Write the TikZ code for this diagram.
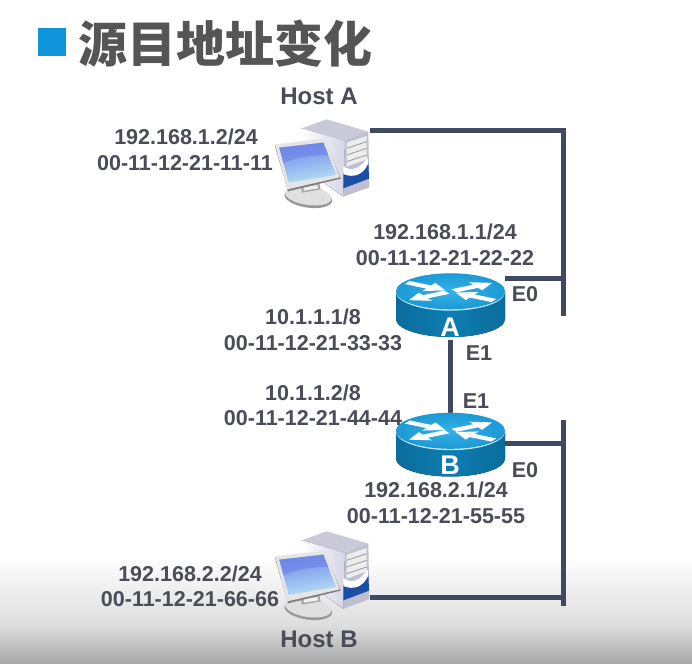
\documentclass[tikz,border=0pt]{standalone}
\usepackage{fontspec}
\setsansfont{Liberation Sans}
\newfontfamily\cjkfont{Noto Sans CJK SC}
\definecolor{cline}{HTML}{3F4A60}
\definecolor{ctext}{HTML}{4A4C58}
\definecolor{ctitle}{HTML}{555555}
\definecolor{cmark}{HTML}{0F96DA}
\definecolor{ctop}{HTML}{1C9AD6}
\definecolor{ctoplight}{HTML}{35B0E6}
\definecolor{cbody}{HTML}{0E7DB0}
\definecolor{cbodydark}{HTML}{0A6C9C}
\definecolor{ctowertop}{HTML}{C9C9DA}
\definecolor{ctowerside}{HTML}{D5D5E6}
\definecolor{ctowerfront}{HTML}{BEBFD0}
\definecolor{ctowerblue}{HTML}{1B4FA6}
\definecolor{cscreen}{HTML}{6F86E8}
\definecolor{cscreenlight}{HTML}{B5E0F5}
\tikzset{
  wire/.style={draw=cline,line width=5pt},
  addr/.style={text=ctext,inner sep=0pt,font=\sffamily\bfseries\fontsize{21.5}{24}\selectfont},
  hostname/.style={addr,font=\sffamily\bfseries\fontsize{24}{26}\selectfont},
  routername/.style={inner sep=0pt,text=white,font=\sffamily\bfseries\fontsize{27}{28}\selectfont},
  iconbox/.style={inner sep=0pt,minimum width=#1},
  routerarrow/.style={fill=white,draw=none},
  pics/router/.style={code={
    %% body
    \fill[left color=cbodydark,right color=cbodydark,middle color=cbody]
      (-54.5,-13.5) -- (-54.5,13.5) arc[start angle=180,end angle=0,x radius=54.5,y radius=18]
      -- (54.5,-13.5) -- cycle;
    %% top
    \fill[white!75!ctop] (0,-13.5) ellipse[x radius=54.5,y radius=18.7];
    \shade[inner color=ctoplight,outer color=ctop] (0,-14.2) ellipse[x radius=54.5,y radius=18];
    %% arrows
    \begin{scope}[shift={(0,-14)},yscale=0.36]
      \foreach \a in {30,210} {
        \fill[routerarrow,rotate=\a] (4,-5) -- (29,-5) -- (29,-13) -- (48,0) -- (29,13) -- (29,5) -- (4,5) -- cycle; }
      \foreach \a in {150,330} {
        \fill[routerarrow,rotate=\a] (50,-5) -- (25,-5) -- (25,-13) -- (6,0) -- (25,13) -- (25,5) -- (50,5) -- cycle; }
    \end{scope}
  }},
  pics/host/.style={code={
    \begin{scope}[x=0.3333pt,y=-0.3333pt,shift={(-186,-186)}]
      %% tower
      \fill[left color=white,right color=ctowerside] (125,85) -- (255,122) -- (250,290) -- (125,200) -- cycle;
      \fill[ctowertop] (125,85) -- (200,58) -- (325,95) -- (255,122) -- cycle;
      \fill[ctowerfront] (255,122) -- (325,95) -- (328,262) -- (250,290) -- cycle;
      \fill[black!7] (260,128) -- (320,108) -- (320,178) -- (260,200) -- cycle;
      \foreach \y in {145,165,185} {
        \draw[black!40,line width=0.8pt] (260,\y) -- (320,\y-20); }
      \fill[ctowerblue] (250,215) .. controls (280,235) and (310,225) .. (325,185) -- (327,236) -- (250,265) -- cycle;
      \fill[white] (250,198) .. controls (270,215) and (300,210) .. (322,172) -- (325,190) .. controls (310,225) and (280,235) .. (250,222) -- cycle;
      %% base
      \fill[black!40] (145,293) ellipse[x radius=72,y radius=30,rotate=-8];
      \fill[black!12] (145,287) ellipse[x radius=70,y radius=28,rotate=-8];
      \fill[black!35] (122,258) -- (178,250) -- (182,268) -- (126,278) -- cycle;
      \fill[black!6] (130,262) -- (172,255) -- (175,265) -- (132,272) -- cycle;
      %% monitor
      \fill[black!50] (45,138) -- (195,120) -- (242,236) -- (84,274) -- cycle;
      \fill[black!10] (45,133) -- (195,116) -- (239,232) -- (82,268) -- cycle;
      \shade[top color=cscreen,bottom color=cscreenlight,shading angle=10]
        (58,143) -- (190,128) -- (228,225) -- (86,248) -- cycle;
      \fill[cscreen,opacity=0.7] (58,143) -- (190,128) -- (205,165) .. controls (160,165) and (110,170) .. (70,190) -- cycle;
    \end{scope}
  }}
}
\begin{document}
\begin{tikzpicture}[x=1pt,y=-1pt,font=\sffamily]
  \useasboundingbox (0,0) rectangle (692,663);
  %% background
  \fill[white] (0,0) rectangle (692,663);
  \fill[top color=white,bottom color=black!13] (0,555) rectangle (692,625);
  \fill[top color=black!13,bottom color=black!34] (0,625) rectangle (692,663);

  %% title
  \fill[cmark] (38,28) rectangle (66,56);
  \node[anchor=west,inner sep=0pt,text=ctitle,font=\cjkfont\bfseries\fontsize{49}{52}\selectfont] (title) at (78,44) {源目地址变化};

  %% devices
  \node[iconbox=95pt,minimum height=90pt] (hosta) at (322,162) {};
  \node[iconbox=95pt,minimum height=90pt] (hostb) at (322,574) {};
  \node[iconbox=109pt,minimum height=63pt] (ra) at (450.5,305.5) {};
  \node[iconbox=109pt,minimum height=63pt] (rb) at (450.5,445) {};
  \coordinate (hostaport) at ([yshift=31pt]hosta.east);
  \coordinate (hostbport) at ([yshift=-23pt]hostb.east);
  \coordinate (raport) at ([yshift=27.5pt]ra.east);
  \coordinate (rbport) at ([yshift=2pt]rb.east);
  \coordinate (busatop) at (563,128);
  \coordinate (busabot) at (563,316);
  \coordinate (busbtop) at (563,420);
  \coordinate (busbbot) at (563,606);

  %% wires
  \draw[wire] (busatop) -- (busabot);
  \draw[wire] (busbtop) -- (busbbot);
  \draw[wire] (hostaport) -- (hostaport -| busatop);
  \draw[wire] (hostbport) -- (hostbport -| busbtop);
  \draw[wire] (raport) -- (raport -| busatop);
  \draw[wire] (rbport) -- (rbport -| busbtop);
  \draw[wire,shorten <=3pt] (ra.south) -- (rb.north);

  %% icons
  \pic at (hosta) {host};
  \pic at (hostb) {host};
  \pic at (ra) {router};
  \pic at (rb) {router};
  \node[routername] (namea) at (450,327) {A};
  \node[routername] (nameb) at (450,465) {B};

  %% labels
  \node[hostname] (lhosta) at (319,96) {Host A};
  \node[hostname] (lhostb) at (319,639) {Host B};
  \node[addr] (ipa) at (186,137) {192.168.1.2/24};
  \node[addr] (maca) at (185,163) {00-11-12-21-11-11};
  \node[addr] (ipra) at (445,232) {192.168.1.1/24};
  \node[addr] (macra) at (445,258) {00-11-12-21-22-22};
  \node[addr] (ipaone) at (313,317) {10.1.1.1/8};
  \node[addr] (macaone) at (313,343) {00-11-12-21-33-33};
  \node[addr] (ipbone) at (313,393) {10.1.1.2/8};
  \node[addr] (macbone) at (313,418) {00-11-12-21-44-44};
  \node[addr] (iprb) at (436,490) {192.168.2.1/24};
  \node[addr] (macrb) at (436,516) {00-11-12-21-55-55};
  \node[addr] (ipb) at (190,574) {192.168.2.2/24};
  \node[addr] (macb) at (190,599) {00-11-12-21-66-66};
  \node[addr] (eazero) at (525,294) {E0};
  \node[addr] (eaone) at (479,353) {E1};
  \node[addr] (ebone) at (476,401) {E1};
  \node[addr] (ebzero) at (525,470) {E0};
\end{tikzpicture}
\end{document}
